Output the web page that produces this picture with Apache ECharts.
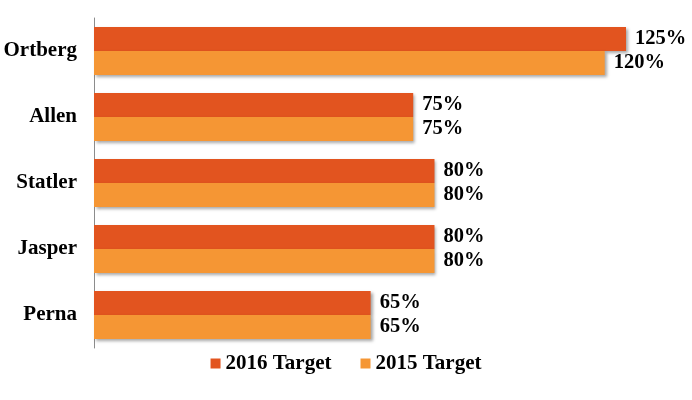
<!DOCTYPE html>
<html>
<head>
<meta charset="utf-8">
<script src="https://cdn.jsdelivr.net/npm/echarts@6/dist/echarts.min.js"></script>
<style>
  html, body { margin: 0; padding: 0; background: #fff; }
  #chart { width: 692px; height: 400px; }
</style>
</head>
<body>
<div id="chart"></div>
<script>
const categories = ["Ortberg", "Allen", "Statler", "Jasper", "Perna"];
const target2016 = [125, 75, 80, 80, 65];
const target2015 = [120, 75, 80, 80, 65];

const FONT = "'Liberation Serif', 'Times New Roman', serif";
const shadow = {
  shadowColor: "rgba(0,0,0,0.35)",
  shadowBlur: 3,
  shadowOffsetX: 2,
  shadowOffsetY: 2,
};
const valueLabel = {
  show: true,
  position: "right",
  distance: 9,
  formatter: "{c}%",
  color: "#000",
  fontFamily: FONT,
  fontWeight: "bold",
  fontSize: 20.5,
};

const chart = echarts.init(document.getElementById("chart"));
chart.setOption({
  animation: false,
  grid: { left: 94, right: 66, top: 18, bottom: 52 },
  legend: {
    bottom: 21,
    left: "center",
    itemWidth: 10,
    itemHeight: 10,
    itemGap: 29,
    icon: "rect",
    textStyle: { fontFamily: FONT, fontWeight: "bold", fontSize: 21, color: "#000" },
    data: ["2016 Target", "2015 Target"],
  },
  xAxis: { type: "value", min: 0, max: 125, show: false },
  yAxis: {
    type: "category",
    inverse: true,
    data: categories,
    axisLine: { lineStyle: { color: "#8c8c8c", width: 1 } },
    axisTick: { show: false },
    axisLabel: {
      margin: 17,
      padding: [4, 0, 0, 0],
      color: "#000",
      fontFamily: FONT,
      fontWeight: "bold",
      fontSize: 21,
    },
  },
  series: [
    {
      name: "2016 Target",
      type: "bar",
      data: target2016,
      barWidth: 24,
      barGap: "0%",
      itemStyle: Object.assign({ color: "#E2541F" }, shadow),
      label: valueLabel,
    },
    {
      name: "2015 Target",
      type: "bar",
      data: target2015,
      barWidth: 24,
      barGap: "0%",
      itemStyle: Object.assign({ color: "#F59634" }, shadow),
      label: valueLabel,
    },
  ],
});
</script>
</body>
</html>
